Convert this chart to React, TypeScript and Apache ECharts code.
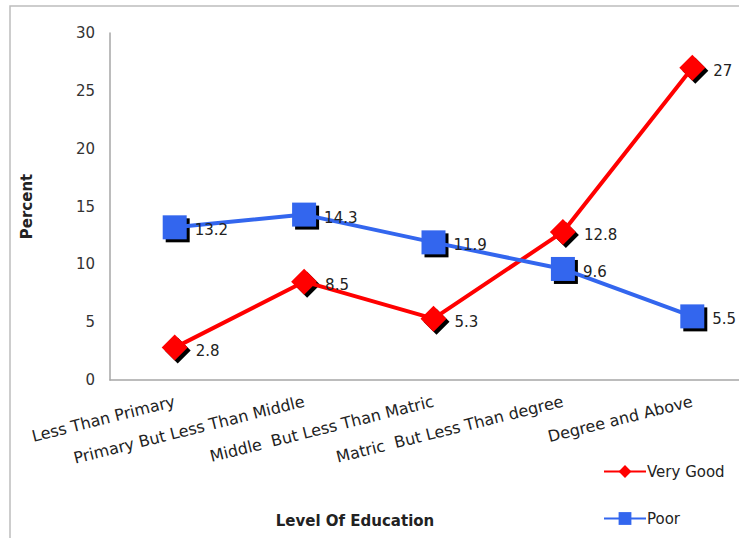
import React, { useEffect, useRef } from "react";
import * as echarts from "echarts";

const categories = [
  "Less Than Primary",
  "Primary But Less Than Middle",
  "Middle  But Less Than Matric",
  "Matric  But Less Than degree",
  "Degree and Above",
];
const veryGood = [2.8, 8.5, 5.3, 12.8, 27];
const poor = [13.2, 14.3, 11.9, 9.6, 5.5];
const yTicks = { min: 0, max: 30, interval: 5 };

const FONT = "DejaVu Sans";

export default function App() {
  const ref = useRef<HTMLDivElement>(null);
  useEffect(() => {
    if (!ref.current) return;
    const chart = echarts.init(ref.current, null, { renderer: "svg" });
    const labelCommon = {
      show: true,
      position: "right" as const,
      distance: 8,
      offset: [0, 3],
      color: "#222",
      fontSize: 15,
      fontFamily: FONT,
    };
    chart.setOption({
      animation: false,
      backgroundColor: "#fff",
      grid: {
        left: 110,
        top: 33,
        width: 647,
        height: 347,
        containLabel: false,
        outerBoundsMode: "none",
      },
      legend: {
        data: ["Very Good", "Poor"],
        orient: "vertical",
        left: 598,
        top: 459,
        itemWidth: 42,
        itemHeight: 16,
        itemGap: 32,
        textStyle: { fontSize: 15, fontFamily: FONT, color: "#222", padding: [0, 0, 0, -4] },
      },
      xAxis: {
        type: "category",
        data: categories,
        boundaryGap: true,
        axisLine: { lineStyle: { color: "#a6a6a6", width: 1.5 } },
        axisTick: { show: false },
        axisLabel: {
          rotate: 14,
          interval: 0,
          margin: 21,
          fontSize: 16,
          fontFamily: FONT,
          color: "#222",
        },
      },
      yAxis: {
        type: "value",
        min: yTicks.min,
        max: yTicks.max,
        interval: yTicks.interval,
        name: "Percent",
        nameLocation: "middle",
        nameGap: 76,
        nameRotate: 90,
        nameTextStyle: { fontSize: 15, fontWeight: "bold", fontFamily: FONT, color: "#222" },
        axisLine: { show: true, lineStyle: { color: "#a6a6a6", width: 1.5 } },
        axisTick: { show: false },
        splitLine: { show: false },
        axisLabel: { margin: 15, fontSize: 15, fontFamily: FONT, color: "#333" },
      },
      graphic: [
        {
          type: "rect",
          shape: { x: 10, y: 6, width: 800, height: 600 },
          style: { fill: "none", stroke: "#bdbdbd", lineWidth: 1.5 },
          silent: true,
          z: -1,
        },
        {
          type: "text",
          x: 355,
          y: 521,
          style: {
            text: "Level Of Education",
            fontSize: 15,
            fontWeight: "bold",
            fontFamily: FONT,
            fill: "#222",
            align: "center",
            verticalAlign: "middle",
          },
        },
      ],
      series: [
        {
          name: "Very Good shadow",
          type: "line",
          data: veryGood,
          lineStyle: { width: 0, opacity: 0 },
          symbol: "diamond",
          symbolSize: 26,
          symbolOffset: [3, 3],
          itemStyle: { color: "#000" },
          z: 2,
          silent: true,
        },
        {
          name: "Very Good",
          type: "line",
          data: veryGood,
          lineStyle: { color: "#ff0000", width: 4 },
          symbol: "diamond",
          symbolSize: 26,
          itemStyle: { color: "#ff0000" },
          label: { ...labelCommon },
          z: 3,
        },
        {
          name: "Poor shadow",
          type: "line",
          data: poor,
          lineStyle: { width: 0, opacity: 0 },
          symbol: "rect",
          symbolSize: 24,
          symbolOffset: [3, 3],
          itemStyle: { color: "#000" },
          z: 2,
          silent: true,
        },
        {
          name: "Poor",
          type: "line",
          data: poor,
          lineStyle: { color: "#3366ee", width: 4 },
          symbol: "rect",
          symbolSize: 24,
          itemStyle: { color: "#3366ee" },
          label: { ...labelCommon },
          z: 3,
        },
      ],
    });
    return () => chart.dispose();
  }, []);
  return (
    <div
      ref={ref}
      style={{ position: "absolute", left: 0, top: 0, width: 739, height: 538 }}
    />
  );
}
